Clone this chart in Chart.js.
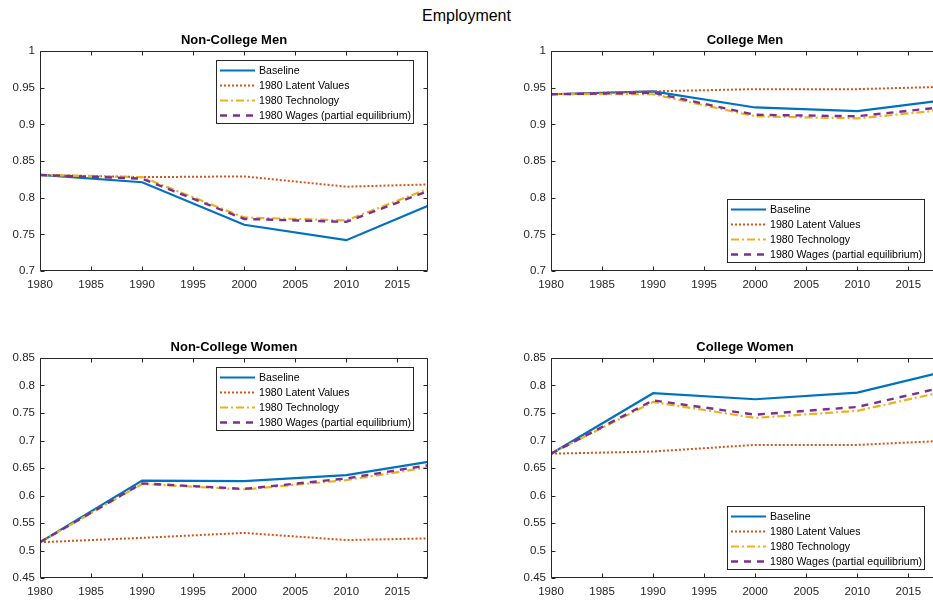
<!DOCTYPE html>
<html><head><meta charset="utf-8">
<script src="https://cdn.jsdelivr.net/npm/chart.js@4.4.0/dist/chart.umd.min.js"></script>
<style>
html,body{margin:0;padding:0;background:#fff;overflow:hidden;width:933px;height:601px;}
#wrap{position:relative;width:933px;height:601px;overflow:hidden;background:#fff;}
#sup{position:absolute;left:0;width:933px;top:7px;line-height:18px;text-align:center;font-size:16px;font-family:"Liberation Sans",Arial,sans-serif;color:#000;}
canvas{position:absolute;}
</style></head><body>
<div id="wrap">
<div id="sup">Employment</div>
<canvas id="c0" style="left:0px;top:0px" width="440" height="300"></canvas>
<canvas id="c1" style="left:511px;top:0px" width="440" height="300"></canvas>
<canvas id="c2" style="left:0px;top:307px" width="440" height="300"></canvas>
<canvas id="c3" style="left:511px;top:307px" width="440" height="300"></canvas>
</div>
<script>
// ---- data ----
const years = [1980, 1990, 2000, 2010, 2018];
const seriesNames = ['Baseline', '1980 Latent Values', '1980 Technology', '1980 Wages (partial equilibrium)'];
const panelTitles = ['Non-College Men', 'College Men', 'Non-College Women', 'College Women'];

const ncmBaseline = [0.831, 0.821, 0.763, 0.742, 0.789];
const ncmLatent   = [0.831, 0.828, 0.829, 0.815, 0.818];
const ncmTech     = [0.831, 0.828, 0.773, 0.769, 0.812];
const ncmWages    = [0.831, 0.826, 0.771, 0.767, 0.809];

const cmBaseline = [0.941, 0.945, 0.923, 0.918, 0.932];
const cmLatent   = [0.941, 0.945, 0.948, 0.948, 0.951];
const cmTech     = [0.941, 0.941, 0.911, 0.908, 0.919];
const cmWages    = [0.941, 0.943, 0.913, 0.911, 0.923];

const ncwBaseline = [0.515, 0.627, 0.626, 0.637, 0.661];
const ncwLatent   = [0.515, 0.523, 0.532, 0.519, 0.522];
const ncwTech     = [0.515, 0.621, 0.611, 0.628, 0.651];
const ncwWages    = [0.515, 0.622, 0.612, 0.631, 0.655];

const cwBaseline = [0.676, 0.786, 0.775, 0.787, 0.823];
const cwLatent   = [0.676, 0.680, 0.692, 0.692, 0.699];
const cwTech     = [0.676, 0.770, 0.741, 0.754, 0.787];
const cwWages    = [0.676, 0.773, 0.747, 0.761, 0.795];

const xRange = [1980, 2018];
const menYRange = [0.7, 1.0];
const womenYRange = [0.45, 0.85];

// ---- styles ----
const FONT = '"Liberation Sans", Arial, Helvetica, sans-serif';
const AXIS = '#262626';
const seriesStyles = [
  {color: '#0072BD', width: 2.2, dash: []},
  {color: '#D95319', width: 2, dash: [2, 2]},
  {color: '#EDB120', width: 2.2, dash: [8, 3, 2, 3]},
  {color: '#7E2F8E', width: 2.4, dash: [7, 6]}
];

const panels = [
  {id: 'c0', title: panelTitles[0], series: [ncmBaseline, ncmLatent, ncmTech, ncmWages], yr: menYRange, legend: 'top'},
  {id: 'c1', title: panelTitles[1], series: [cmBaseline, cmLatent, cmTech, cmWages], yr: menYRange, legend: 'bottom'},
  {id: 'c2', title: panelTitles[2], series: [ncwBaseline, ncwLatent, ncwTech, ncwWages], yr: womenYRange, legend: 'top'},
  {id: 'c3', title: panelTitles[3], series: [cwBaseline, cwLatent, cwTech, cwWages], yr: womenYRange, legend: 'bottom'}
];

const framePlugin = {
  id: 'frame',
  afterDatasetsDraw(chart, args, opts) {
    const {ctx, chartArea: a, scales} = chart;
    const xs = scales.x, ys = scales.y;
    ctx.save();
    ctx.strokeStyle = AXIS;
    ctx.lineWidth = 1;
    const L = Math.round(a.left) + 0.5, R = Math.round(a.right) - 0.5;
    const T = Math.round(a.top) + 0.5, B = Math.round(a.bottom) - 0.5;
    ctx.beginPath();
    ctx.rect(L, T, R - L, B - T);
    ctx.stroke();
    const tl = 4;
    ctx.beginPath();
    xs.ticks.forEach(t => {
      const px = Math.round(xs.getPixelForValue(t.value)) + 0.5;
      ctx.moveTo(px, B); ctx.lineTo(px, B - tl);
      ctx.moveTo(px, T); ctx.lineTo(px, T + tl);
    });
    ys.ticks.forEach(t => {
      const py = Math.round(ys.getPixelForValue(t.value)) + 0.5;
      ctx.moveTo(L, py); ctx.lineTo(L + tl, py);
      ctx.moveTo(R, py); ctx.lineTo(R - tl, py);
    });
    ctx.stroke();
    // subplot title
    ctx.fillStyle = '#000';
    ctx.font = 'bold 13px ' + FONT;
    ctx.textAlign = 'center';
    ctx.textBaseline = 'middle';
    ctx.fillText(opts.title, (a.left + a.right) / 2, 40);
    // legend
    const lw = 197, lh = 63;
    const lx = Math.round(a.left) + 176;
    const ly = opts.legend === 'top' ? Math.round(a.top) + 9 : Math.round(a.bottom) - 9 - lh;
    ctx.fillStyle = '#fff';
    ctx.fillRect(lx, ly, lw, lh);
    ctx.strokeStyle = AXIS;
    ctx.lineWidth = 1;
    ctx.strokeRect(lx + 0.5, ly + 0.5, lw, lh);
    ctx.font = '10.6px ' + FONT;
    ctx.textAlign = 'left';
    ctx.textBaseline = 'middle';
    chart.data.datasets.forEach((ds, i) => {
      const yy = ly + 10 + i * 15;
      ctx.save();
      ctx.strokeStyle = ds.borderColor;
      ctx.lineWidth = ds.borderWidth;
      ctx.setLineDash(ds.borderDash || []);
      ctx.beginPath();
      ctx.moveTo(lx + 4, yy + 0.5);
      ctx.lineTo(lx + 39, yy + 0.5);
      ctx.stroke();
      ctx.restore();
      ctx.fillStyle = '#000';
      ctx.fillText(ds.label, lx + 43, yy + 1);
    });
    ctx.restore();
  }
};

panels.forEach(p => {
  const datasets = p.series.map((vals, i) => ({
    label: seriesNames[i],
    data: years.map((yr, k) => ({x: yr, y: vals[k]})),
    borderColor: seriesStyles[i].color,
    backgroundColor: seriesStyles[i].color,
    borderWidth: seriesStyles[i].width,
    borderDash: seriesStyles[i].dash,
    borderCapStyle: 'butt',
    pointRadius: 0,
    tension: 0,
    fill: false,
    order: 4 - i
  }));
  new Chart(document.getElementById(p.id), {
    type: 'line',
    data: {datasets},
    plugins: [framePlugin],
    options: {
      responsive: false,
      animation: false,
      events: [],
      layout: {padding: {top: 51, right: 12, left: 0, bottom: 0}},
      plugins: {
        legend: {display: false},
        tooltip: {enabled: false},
        title: {display: false},
        frame: {title: p.title, legend: p.legend}
      },
      scales: {
        x: {
          type: 'linear',
          min: xRange[0], max: xRange[1],
          grid: {display: false, drawTicks: false},
          border: {display: false},
          ticks: {stepSize: 5, includeBounds: false, padding: 7, color: AXIS, font: {family: FONT, size: 11.5},
                  maxRotation: 0, autoSkip: false, callback: v => String(v)},
          afterFit: s => { s.height = 29; }
        },
        y: {
          type: 'linear',
          min: p.yr[0], max: p.yr[1],
          grid: {display: false, drawTicks: false},
          border: {display: false},
          ticks: {stepSize: 0.05, padding: 5, color: AXIS, font: {family: FONT, size: 11.5},
                  autoSkip: false, callback: v => String(parseFloat(v.toFixed(2)))},
          afterFit: s => { s.width = 40; }
        }
      }
    }
  });
});
</script>
</body></html>
